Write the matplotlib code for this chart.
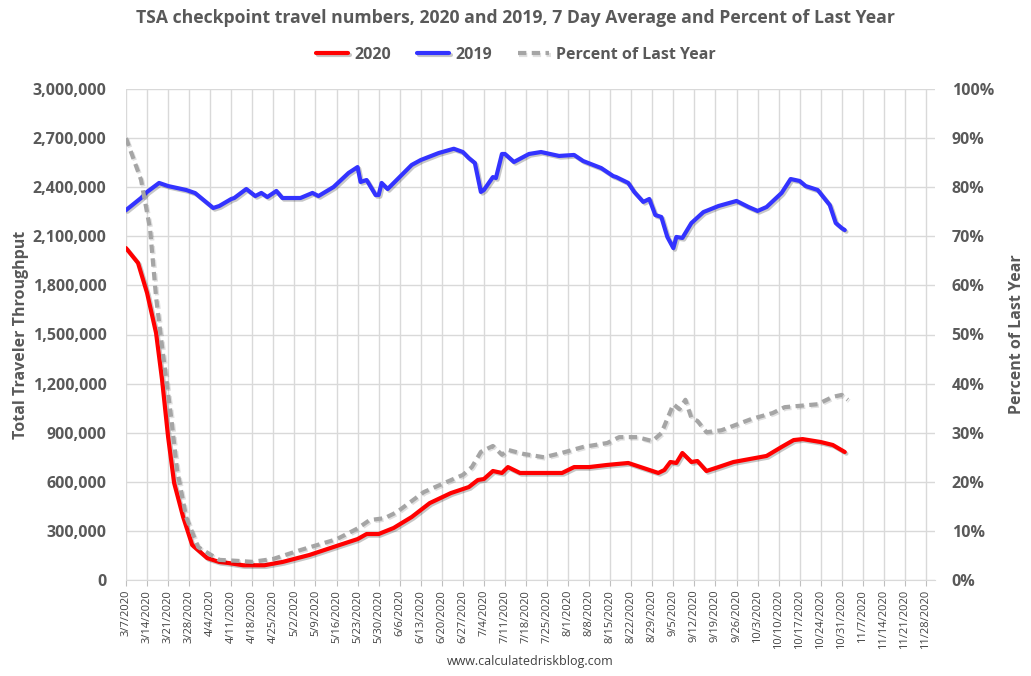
import matplotlib
matplotlib.use("Agg")
import matplotlib.pyplot as plt
import matplotlib.patheffects as pe
import pandas as pd
import numpy as np

START = "2020-03-07"

# 2019 series (7-day average), day offset from START and value
days_2019 = [0, 5, 7, 11, 14, 20, 23, 29, 31, 35, 36, 40, 43, 45, 47, 50, 52, 58, 62, 64,
             69, 74, 77, 78, 80, 83, 84, 85, 87, 90, 95, 98, 104, 109, 112, 114, 116, 118,
             119, 122, 123, 125, 126, 129, 134, 138, 144, 149, 152, 158, 162, 163, 167, 169,
             172, 174, 176, 178, 180, 182, 183, 185, 188, 192, 197, 203, 207, 210, 213, 218,
             221, 224, 226, 230, 234, 236, 238, 239]
vals_2019 = [2260, 2334, 2371, 2426, 2407, 2383, 2364, 2273, 2285, 2328, 2334, 2389, 2346,
             2365, 2340, 2377, 2334, 2334, 2365, 2346, 2401, 2487, 2523, 2432, 2444, 2352,
             2352, 2426, 2389, 2444, 2536, 2566, 2609, 2635, 2615, 2578, 2548, 2371, 2383,
             2462, 2456, 2603, 2603, 2554, 2603, 2615, 2591, 2597, 2560, 2517, 2468, 2462,
             2426, 2371, 2310, 2328, 2230, 2218, 2096, 2028, 2096, 2090, 2181, 2248, 2285,
             2316, 2279, 2255, 2279, 2365, 2450, 2438, 2407, 2383, 2291, 2181, 2150, 2138]

# 2020 series (7-day average)
days_2020 = [0, 4, 7, 10, 12, 14, 16, 19, 22, 27, 31, 34, 39, 46, 52, 61, 72, 77, 80, 84,
             89, 95, 101, 108, 114, 117, 119, 122, 125, 127, 131, 145, 149, 154, 160, 167,
             177, 179, 181, 183, 185, 188, 190, 193, 197, 202, 213, 218, 222, 225, 231, 235,
             239]
vals_2020 = [2028, 1937, 1754, 1509, 1222, 874, 593, 385, 214, 134, 110, 104, 90, 90, 110,
             153, 220, 250, 281, 281, 318, 385, 470, 531, 568, 611, 617, 666, 654, 690, 654,
             654, 690, 690, 703, 715, 654, 672, 721, 715, 776, 721, 727, 666, 690, 721, 758,
             813, 855, 861, 843, 825, 782]

# Percent of last year
days_pct = [0, 5, 8, 10, 12, 15, 17, 20, 24, 31, 37, 42, 49, 58, 70, 77, 81, 86, 90, 99,
            106, 112, 115, 118, 122, 125, 127, 132, 139, 145, 152, 160, 164, 170, 175, 178,
            182, 184, 186, 188, 190, 193, 198, 208, 215, 219, 230, 235, 238, 240]
vals_pct = [90.0, 81.5, 71.5, 57.6, 47.5, 33.2, 22.4, 12.8, 6.7, 4.1, 3.9, 3.7, 4.3, 6.1,
            8.3, 10.5, 12.2, 12.6, 13.8, 17.9, 19.8, 21.4, 23.0, 26.1, 27.3, 25.5, 26.5,
            25.7, 25.0, 25.9, 27.1, 27.9, 29.1, 29.1, 28.3, 29.9, 35.8, 34.8, 36.7, 33.0,
            32.4, 30.1, 30.5, 32.8, 34.0, 35.2, 35.8, 37.3, 37.7, 36.7]

left_ticks = [0, 300000, 600000, 900000, 1200000, 1500000, 1800000, 2100000, 2400000,
              2700000, 3000000]
right_ticks = [0, 10, 20, 30, 40, 50, 60, 70, 80, 90, 100]

start = pd.Timestamp(START)
def to_dates(days):
    return [start + pd.Timedelta(days=int(d)) for d in days]

x19 = to_dates(days_2019)
x20 = to_dates(days_2020)
xp = to_dates(days_pct)

TXT = "#595959"
GRID = "#d9d9d9"
plt.rcParams['font.family'] = ['Open Sans', 'DejaVu Sans']

fig = plt.figure(figsize=(10.31, 6.76), dpi=100)
ax = fig.add_axes([126/1031, 1-580/676, (935-126)/1031, 491/676])
ax2 = ax.twinx()

shadow = [pe.SimpleLineShadow(offset=(1.2, -1.2), alpha=0.22, shadow_color='black'), pe.Normal()]
shadow_d = [pe.SimpleLineShadow(offset=(1.0, -1.0), alpha=0.12, shadow_color='black'), pe.Normal()]

l20, = ax.plot(x20, [v*1000 for v in vals_2020], color='#ff0000', lw=3.0, label='2020',
               path_effects=shadow, solid_joinstyle='round', solid_capstyle='round', zorder=3)
l19, = ax.plot(x19, [v*1000 for v in vals_2019], color='#3333ff', lw=3.0, label='2019',
               path_effects=shadow, solid_joinstyle='round', solid_capstyle='round', zorder=3)
lp, = ax2.plot(xp, [v/100 for v in vals_pct], color='#a5a5a5', lw=3.0, ls=(0, (2.0, 1.3)),
               label='Percent of Last Year', path_effects=shadow_d, dash_capstyle='butt')

ax.set_ylim(0, 3000000)
ax2.set_ylim(0, 1.0)
xmin = start
xmax = start + pd.Timedelta(days=269)
ax.set_xlim(xmin, xmax)

ax.set_yticks(left_ticks)
ax.set_yticklabels([f"{v:,}" for v in left_ticks])
ax2.set_yticks([t/100 for t in right_ticks])
ax2.set_yticklabels([f"{t}%" for t in right_ticks])

xt = [start + pd.Timedelta(days=7*i) for i in range(39)]
ax.set_xticks(xt)
ax.set_xticklabels([f"{d.month}/{d.day}/{d.year}" for d in xt], rotation=90,
                   fontsize=8, color='#404040')

ax.grid(True, color=GRID, lw=1.0)
ax.set_axisbelow(True)
for s in ['top', 'right', 'left']:
    ax.spines[s].set_visible(False)
    ax2.spines[s].set_visible(False)
ax2.spines['bottom'].set_visible(False)
ax.spines['bottom'].set_color(GRID)

ax.tick_params(axis='x', length=4, color='#bfbfbf', pad=3)
ax.tick_params(axis='y', length=0, pad=14, labelsize=11.5, labelcolor=TXT)
ax2.tick_params(axis='y', length=0, pad=12, labelsize=11.5, labelcolor=TXT)
for lab in ax.get_yticklabels() + ax2.get_yticklabels():
    lab.set_fontweight('bold')

ax.set_ylabel("Total Traveler Throughput", fontsize=11.5, fontweight='bold', color=TXT,
              labelpad=3)
ax2.set_ylabel("Percent of Last Year", fontsize=11.5, fontweight='bold', color=TXT,
               labelpad=11)

fig.text(0.5, 1-18/676, "TSA checkpoint travel numbers, 2020 and 2019, 7 Day Average and Percent of Last Year",
         ha='center', va='center', fontsize=12.7, fontweight='bold', color=TXT)

fig.legend(handles=[l20, l19, lp], loc='center', bbox_to_anchor=(516/1031, 1-55/676),
           ncol=3, frameon=False, handlelength=2.0, columnspacing=1.6,
           handletextpad=0.4, prop={'weight': 'bold', 'size': 11.5})
for t in fig.legends[0].get_texts():
    t.set_color(TXT)

fig.text(530/1031, 1-661/676, "www.calculatedriskblog.com", ha='center', va='center',
         fontsize=9, color='#404040')

fig.savefig("out.png", dpi=100)
